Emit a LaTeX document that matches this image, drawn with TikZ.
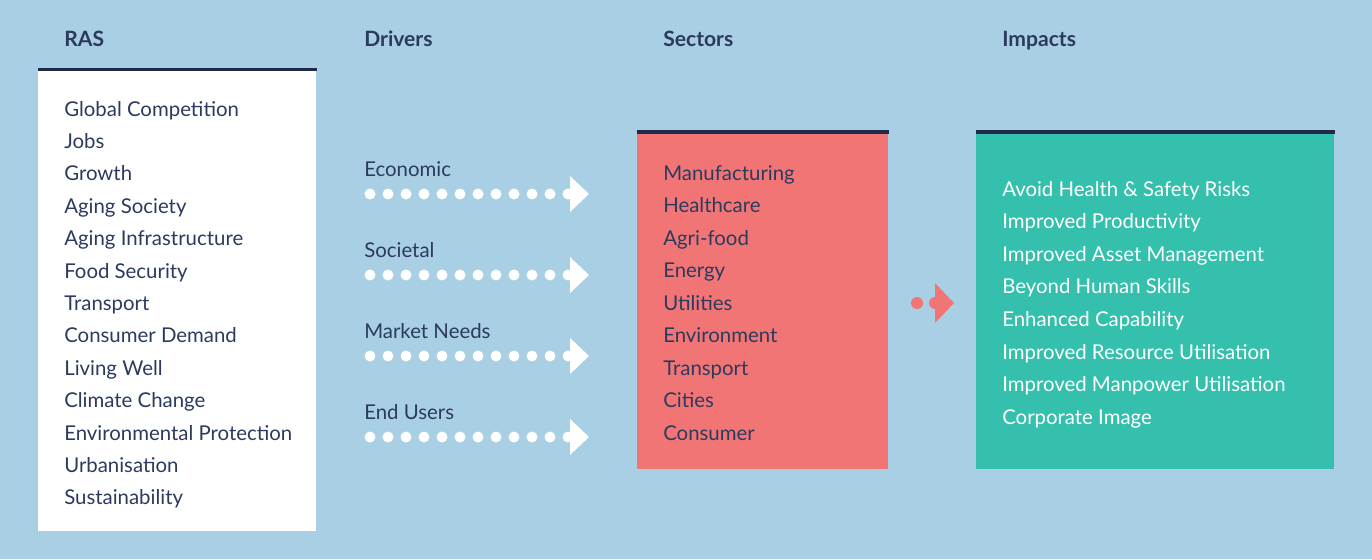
\documentclass[tikz,border=0pt]{standalone}
\usepackage{fontspec}
\setmainfont{Lato}
\usepackage{xcolor}
\usepackage{tikz}
\usetikzlibrary{positioning}

\definecolor{skyblue}{HTML}{A8CFE3}
\definecolor{navy}{HTML}{2C3A5E}
\definecolor{rulenavy}{HTML}{1E2A48}
\definecolor{coral}{HTML}{F27575}
\definecolor{impactgreen}{HTML}{35C0AD}

\begin{document}
\begin{tikzpicture}[x=0.025cm,y=-0.025cm,
    every node/.style={inner sep=0pt,font=\fontsize{14.5}{17}\selectfont},
    heading/.style={anchor=base west,text=navy,font=\bfseries\fontsize{15}{18}\selectfont},
    item/.style={anchor=base west,text=navy},
    panel/.style={anchor=north west,minimum height=8.475cm},
    toprule/.style={fill=rulenavy}]
    \fill[skyblue] (0,0) rectangle (1372,559);
    \useasboundingbox (0,0) rectangle (1372,559);

    \node[heading] (RAS) at (64,46) {RAS};
    \node[heading] (Drivers) at (364,46) {Drivers};
    \node[heading] (Sectors) at (663,46) {Sectors};
    \node[heading] (Impacts) at (1002,46) {Impacts};

    \node[panel,fill=white,minimum width=6.95cm,minimum height=11.5875cm] (ras) at (38,67.5) {};
    \node[panel,fill=coral,minimum width=6.275cm] (sectors) at (637,130) {};
    \node[panel,fill=impactgreen,minimum width=8.95cm] (impacts) at (976,130) {};
    \foreach \p in {ras,sectors,impacts}
        \fill[toprule] (\p.north west) rectangle ([yshift=-2.5pt]\p.north east);

    \foreach \t [count=\i from 0] in {Global Competition,Jobs,Growth,Aging Society,
        Aging Infrastructure,Food Security,Transport,Consumer Demand,Living Well,
        Climate Change,Environmental Protection,Urbanisation,Sustainability}
        \node[item] (ras-\i) at (64,116+32.4*\i) {\t};

    \foreach \t [count=\i from 0] in {Economic,Societal,Market Needs,End Users} {
        \node[item] (drv-\i) at (364,176+81*\i) {\t};
        \foreach \k in {0,...,11}
            \fill[white] (370+18*\k,194+81*\i) circle[radius=5.5];
        \fill[white] (570,176+81*\i) -- (589,194+81*\i) -- (570,212+81*\i) -- cycle;
    }

    \foreach \t [count=\i from 0] in {Manufacturing,Healthcare,Agri-food,Energy,
        Utilities,Environment,Transport,Cities,Consumer}
        \node[item] (sec-\i) at (663,180+32.5*\i) {\t};

    \fill[coral] (917,303) circle[radius=6];
    \fill[coral] (935,303) circle[radius=6];
    \fill[coral] (935,283) -- (954,303) -- (935,323) -- cycle;

    \foreach \t [count=\i from 0] in {Avoid Health \& Safety Risks,Improved Productivity,
        Improved Asset Management,Beyond Human Skills,Enhanced Capability,
        Improved Resource Utilisation,Improved Manpower Utilisation,Corporate Image}
        \node[item,text=white] (imp-\i) at (1002,196+32.6*\i) {\t};
\end{tikzpicture}
\end{document}
